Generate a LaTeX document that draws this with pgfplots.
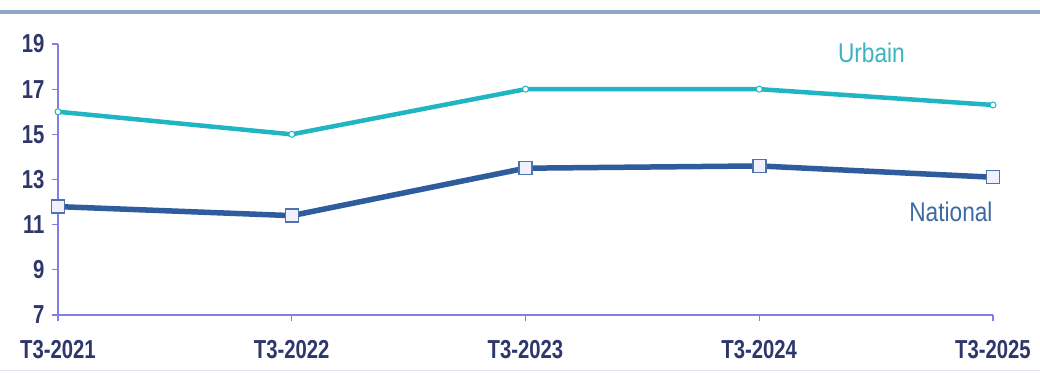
\documentclass[border=0pt]{standalone}
\usepackage{pgfplots}
\pgfplotsset{compat=1.18}
\usepackage{fontspec}
\setmainfont{Liberation Sans}[FakeStretch=0.78]
\newfontfamily\lblfont{Liberation Sans}[FakeStretch=0.84]
\definecolor{axisc}{HTML}{7F7FE6}
\definecolor{tickc}{HTML}{2D376C}
\definecolor{urb}{HTML}{20B5C3}
\definecolor{nat}{HTML}{2E5C9C}
\definecolor{urbt}{HTML}{3AB4BE}
\definecolor{natt}{HTML}{3E6AA4}
\definecolor{topl}{HTML}{8CA6C6}
\begin{document}
\begin{tikzpicture}[x=1pt,y=1pt]
\useasboundingbox (0,0) rectangle (1040,372);
\fill[white] (0,0) rectangle (1040,372);
\draw[topl, line width=4pt] (0,360) -- (1040,360);
\draw[blue!12, line width=1.5pt] (0,1.5) -- (1040,1.5);
\begin{axis}[
  at={(58pt,57pt)}, anchor=south west,
  scale only axis, width=935pt, height=271pt,
  xmin=0, xmax=4, ymin=7, ymax=19,
  xtick={0,1,2,3,4},
  xticklabels={T3-2021,T3-2022,T3-2023,T3-2024,T3-2025},
  ytick={7,9,11,13,15,17,19},
  axis x line*=bottom, axis y line*=left,
  axis line style={axisc, line width=1.8pt, -},
  tick style={axisc, line width=1.3pt},
  tick align=outside, major tick length=6pt,
  clip=false,
  ticklabel style={font=\fontsize{26}{27}\selectfont\bfseries, text=tickc},
  /pgf/number format/assume math mode=true,
  xticklabel style={yshift=-16pt},
  yticklabel style={xshift=-4pt},
]
\addplot[urb, line width=4.5pt, mark=*, mark size=3pt, mark options={fill=white, draw=urb, line width=1pt}]
  coordinates {(0,16.0) (1,15.0) (2,17.0) (3,17.0) (4,16.3)};
\addplot[nat, line width=5.5pt, mark=square*, mark size=6.5pt, mark options={fill=blue!6, draw=nat!85, line width=1.5pt}]
  coordinates {(0,11.8) (1,11.4) (2,13.5) (3,13.6) (4,13.1)};
\node[text=urbt, font=\lblfont\fontsize{27}{28}\selectfont] at (axis cs:3.48,18.6) {Urbain};
\node[text=natt, font=\lblfont\fontsize{27}{28}\selectfont] at (axis cs:3.82,11.55) {National};
\end{axis}
\end{tikzpicture}
\end{document}
